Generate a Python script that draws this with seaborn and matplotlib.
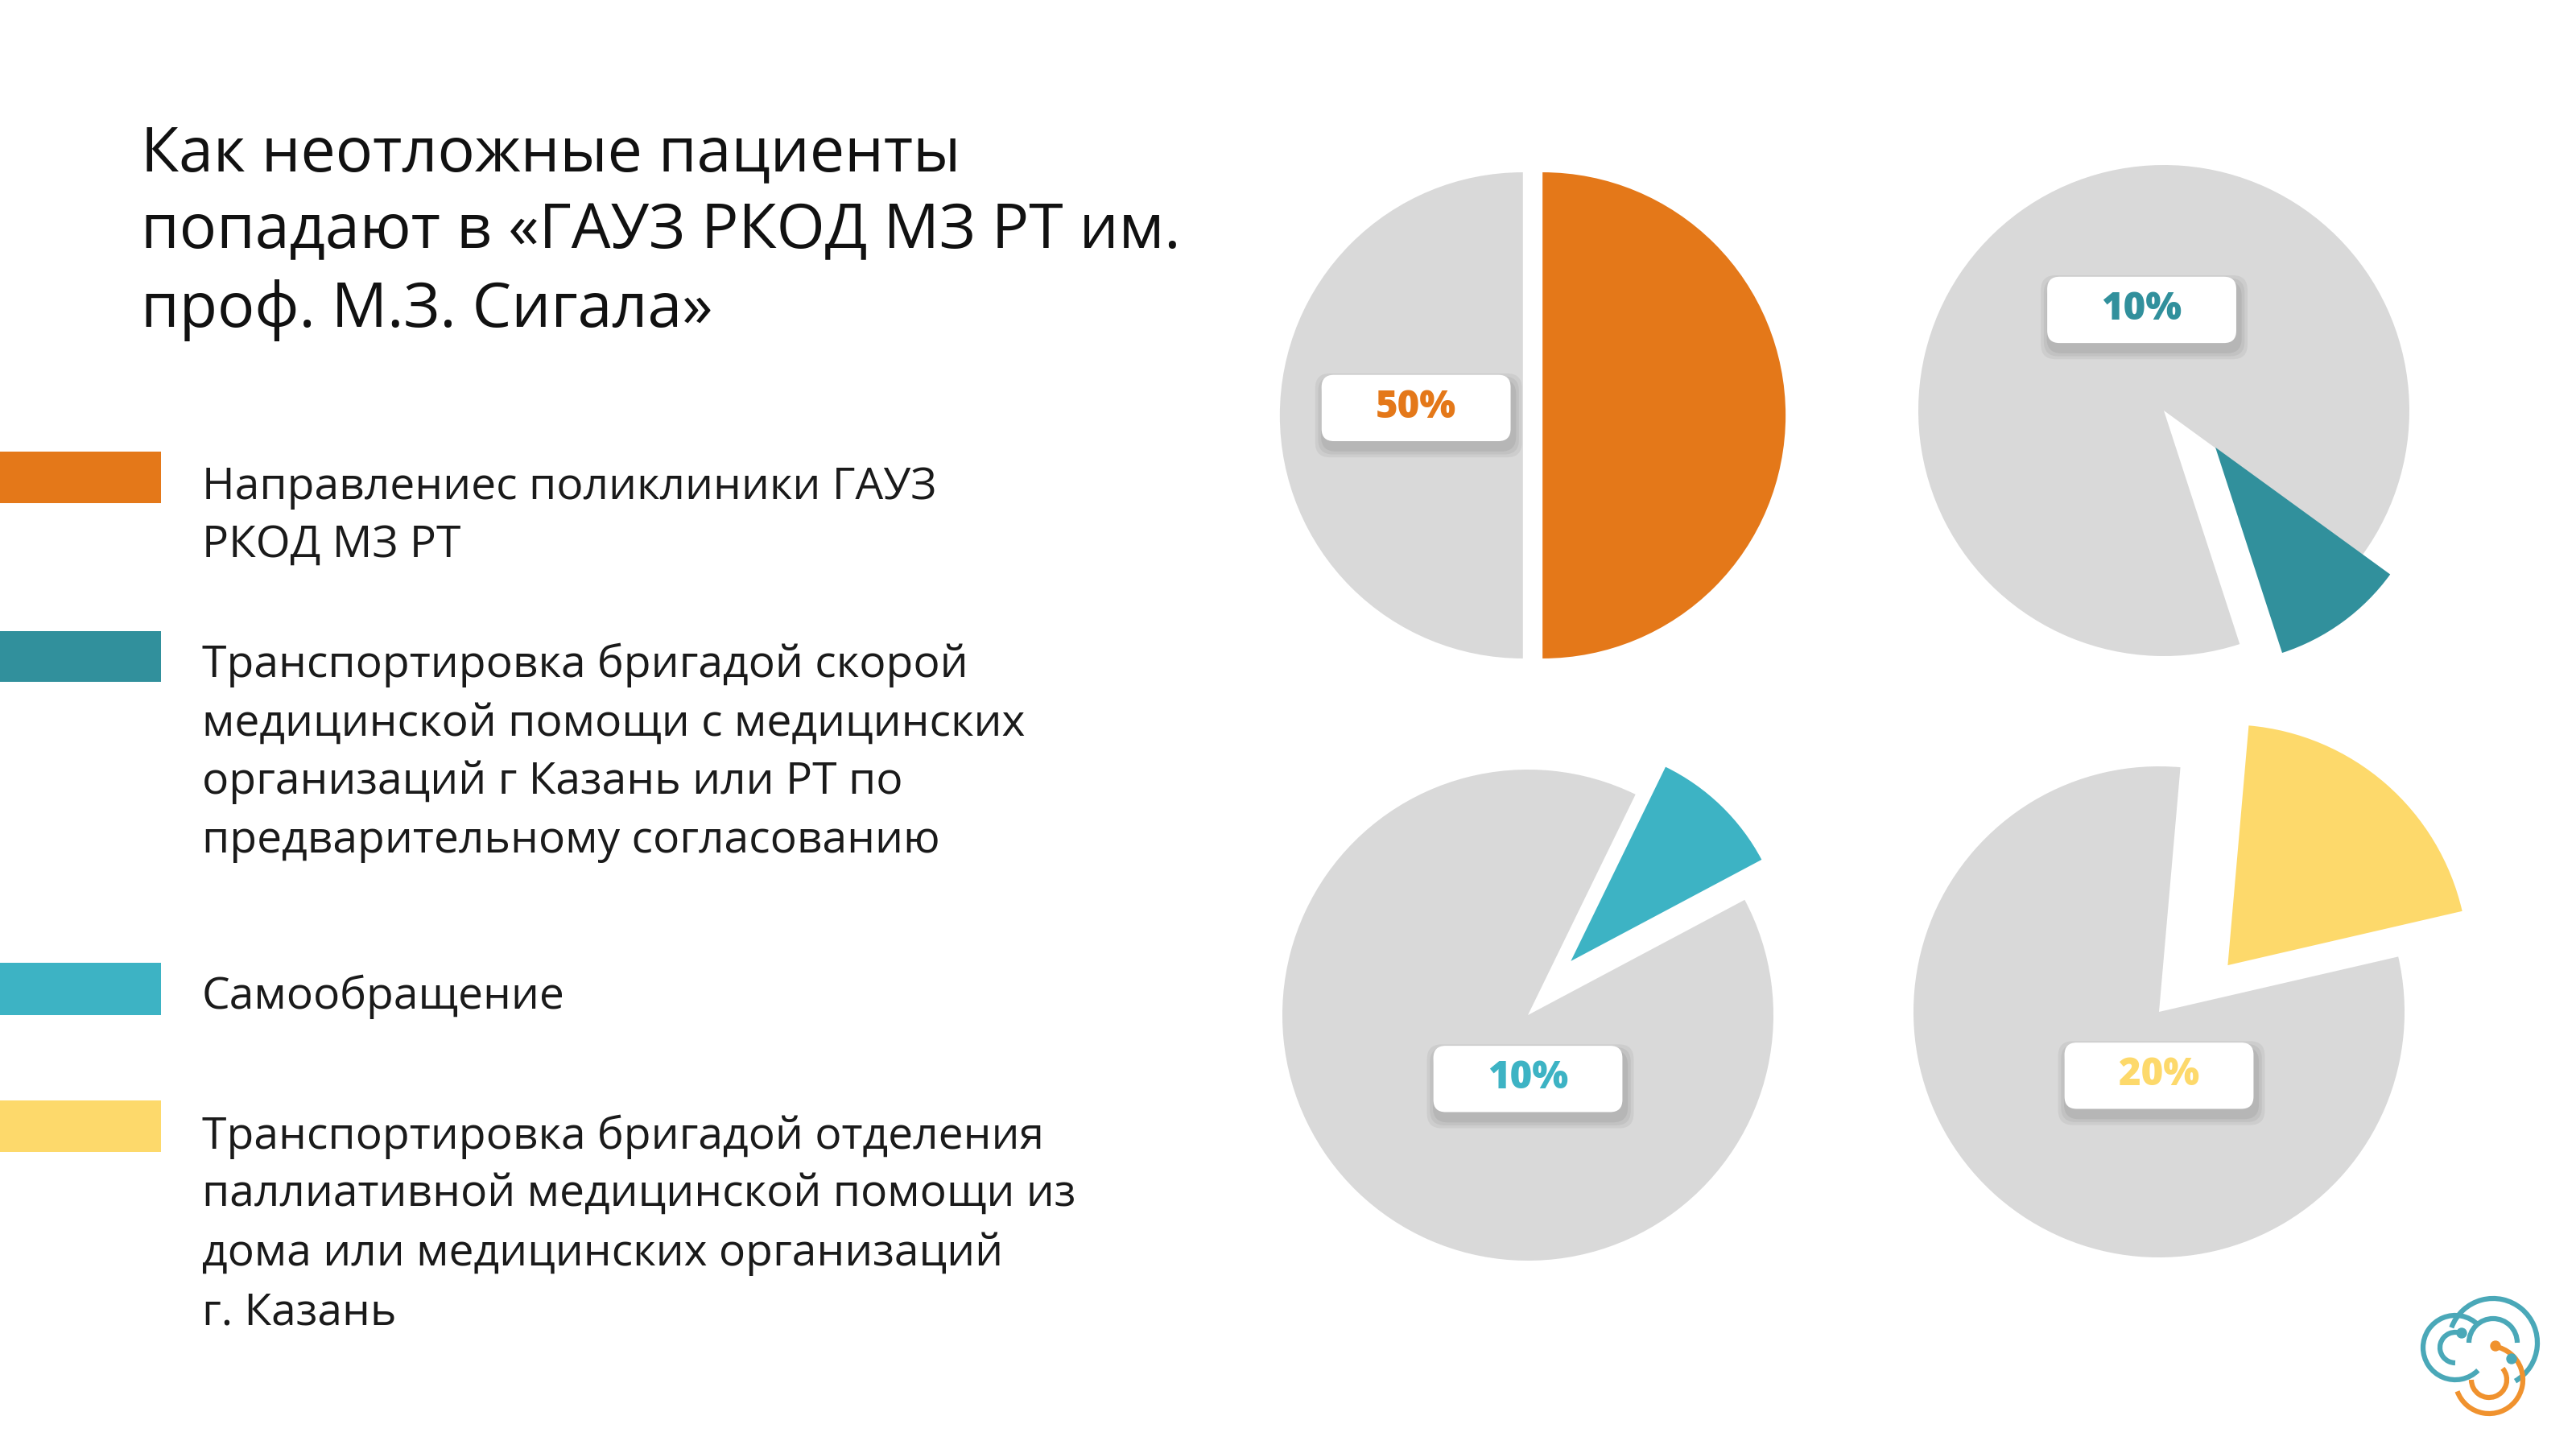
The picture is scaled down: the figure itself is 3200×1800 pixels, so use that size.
import numpy as np
import pandas as pd
import seaborn as sns
import matplotlib.pyplot as plt
from matplotlib.patches import FancyBboxPatch, Rectangle, Arc, Circle

# data
title_lines = ["Как неотложные пациенты",
               "попадают в «ГАУЗ РКОД МЗ РТ им.",
               "проф. М.З. Сигала»"]
categories = [
    ["Направлениес поликлиники ГАУЗ", "РКОД МЗ РТ"],
    ["Транспортировка бригадой скорой", "медицинской помощи с медицинских",
     "организаций г Казань или РТ по", "предварительному согласованию"],
    ["Самообращение"],
    ["Транспортировка бригадой отделения", "паллиативной медицинской помощи из",
     "дома или медицинских организаций", "г. Казань"],
]
shares = [50, 10, 10, 20]
share_labels = ["50%", "10%", "10%", "20%"]
palette = ["#E47819", "#31909C", "#3DB3C4", "#FDD96B"]
GREY = "#D9D9D9"

# layout (pixels on the 3200x1800 slide)
W, H = 3200, 1800
pie_centers = [(1904, 516), (2688, 510), (1898, 1261), (2682, 1257)]
R_PX = 305
HALF = 480
mid_angles = [0, -54, 46, 49]
grey_radius = [0.99, 1.0, 1.0, 1.0]
grey_explode = [0.04, 0, 0, 0]
col_radius = [0.99, 0.88, 0.88, 0.98]
col_explode = [0.04, 0, 0, 0]
col_center = [(0, 0), (0.21, -0.15), (0.175, 0.22), (0.28, 0.19)]
label_pos = [(-0.475, 0.03), (-0.09, 0.41), (0.0, -0.26), (0.0, -0.26)]
legend_patch_y = [(561, 625), (784, 847), (1196, 1261), (1367, 1431)]
legend_baselines = [[620, 692], [841, 914, 986, 1059], [1253], [1427, 1498, 1572, 1645]]
title_baselines = [212, 308, 406]

sns.set_theme(style="white")
plt.rcParams['font.family'] = ['Open Sans', 'DejaVu Sans']

fig = plt.figure(figsize=(32, 18), dpi=100)
fig.patch.set_facecolor("white")

bg = fig.add_axes([0, 0, 1, 1])
bg.set_xlim(0, W)
bg.set_ylim(H, 0)
bg.axis("off")

for line, yb in zip(title_lines, title_baselines):
    bg.text(175, yb, line, fontsize=55.5, color="#111111", va="baseline", ha="left")

for col, (y0, y1), lines, bases in zip(palette, legend_patch_y, categories, legend_baselines):
    bg.add_patch(Rectangle((0, y0), 200, y1 - y0, color=col, lw=0))
    for line, yb in zip(lines, bases):
        bg.text(251, yb, line, fontsize=39.7, color="#1a1a1a", va="baseline", ha="left")

# logo mark bottom right (y axis points down here)
TEAL_L, ORANGE_L = "#4AA8B8", "#F0922E"
logo_arcs = [((3050, 1674), 40, 45, 315, TEAL_L), ((3050, 1674), 19, 90, 300, TEAL_L),
             ((3097, 1668), 55, 200, 420, TEAL_L), ((3097, 1668), 30, 180, 360, TEAL_L),
             ((3092, 1714), 42, -80, 160, ORANGE_L), ((3092, 1714), 22, -40, 180, ORANGE_L)]
for (cx, cy), r, t1, t2, c in logo_arcs:
    bg.add_patch(Arc((cx, cy), 2 * r, 2 * r, theta1=t1, theta2=t2, color=c, lw=4.5))
for (x, y, c) in [(3058, 1656, TEAL_L), (3120, 1688, TEAL_L), (3100, 1672, ORANGE_L)]:
    bg.add_patch(Circle((x, y), 6, color=c))

lim = HALF / R_PX
for i, ((cx, cy), share, col) in enumerate(zip(pie_centers, shares, palette)):
    ax = fig.add_axes([(cx - HALF) / W, 1 - (cy + HALF) / H, 2 * HALF / W, 2 * HALF / H])
    ax.patch.set_visible(False)
    start = mid_angles[i] - share * 3.6 / 2
    vals = [share, 100 - share]
    ax.pie(vals, colors=["none", GREY], startangle=start, radius=grey_radius[i],
           explode=[0, grey_explode[i]], wedgeprops=dict(linewidth=0))
    ax.pie(vals, colors=[col, "none"], startangle=start, radius=col_radius[i],
           explode=[col_explode[i], 0], center=col_center[i], wedgeprops=dict(linewidth=0))
    ax.set_xlim(-lim, lim)
    ax.set_ylim(-lim, lim)
    ax.set_aspect("equal")
    ax.axis("off")

    lx, ly = label_pos[i]
    bw, bh = 0.77, 0.27
    for k, a in enumerate([0.05, 0.05, 0.06]):
        g = 0.012 * (3 - k)
        ax.add_patch(FancyBboxPatch((lx - bw / 2 - g + 0.01, ly - bh / 2 - g - 0.03), bw + 2 * g, bh + 2 * g,
                                    boxstyle="round,pad=0,rounding_size=0.06", fc="black", ec="none", alpha=a))
    ax.add_patch(FancyBboxPatch((lx - bw / 2, ly - bh / 2), bw, bh,
                                boxstyle="round,pad=0,rounding_size=0.05", fc="white", ec="none"))
    ax.text(lx, ly, share_labels[i], ha="center", va="center", fontsize=34,
            fontweight="heavy", color=col)

fig.savefig("out.png", dpi=100, facecolor="white")
